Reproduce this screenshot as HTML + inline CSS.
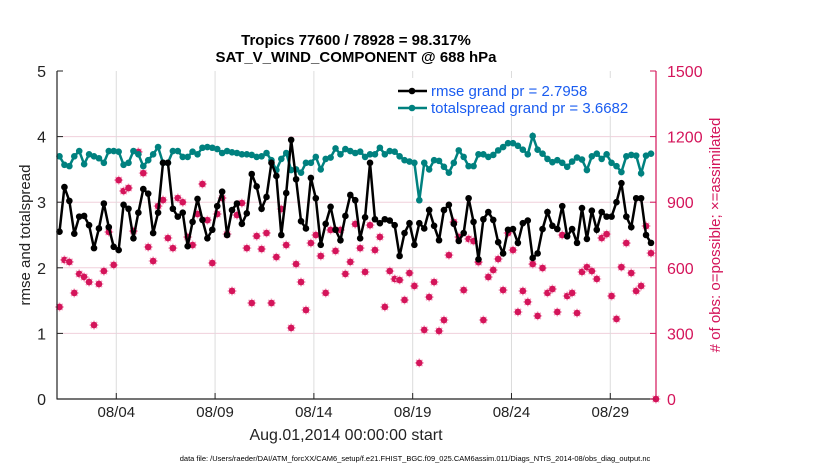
<!DOCTYPE html>
<html><head><meta charset="utf-8"><style>
body{margin:0;background:#fff;}
svg{display:block;font-family:"Liberation Sans",sans-serif;}
</style></head><body>
<svg id="chart" width="830" height="470"></svg>
<script>
const rmse=[2.55,3.23,3.02,2.52,2.78,2.79,2.65,2.3,2.6,2.98,2.62,2.32,2.27,2.96,2.9,2.45,2.84,3.2,3.13,2.53,2.84,3.6,3.6,2.9,2.78,2.84,2.33,2.7,3.05,2.73,2.45,
2.58,2.94,3.16,2.5,2.88,2.98,2.67,2.83,3.43,3.24,2.9,3.08,3.6,3.4,2.5,3.14,3.95,3.35,2.71,2.6,3.37,3.06,2.35,2.67,2.93,2.58,2.42,2.79,3.11,3.03,
2.45,2.77,3.6,2.74,2.68,2.74,2.72,2.65,2.18,2.53,2.68,2.35,2.68,2.6,2.88,2.64,2.42,2.88,2.96,2.67,2.41,2.53,3.06,2.7,2.13,2.74,2.85,2.73,2.39,2.22,2.58,
2.59,2.38,2.68,2.72,2.15,2.22,2.59,2.85,2.64,2.59,2.94,2.48,2.59,2.38,2.91,2.44,2.87,2.58,2.85,2.78,2.78,3.0,3.29,2.78,2.62,3.06,3.06,2.5,2.38];
const spread=[3.7,3.57,3.55,3.7,3.78,3.58,3.73,3.7,3.67,3.6,3.78,3.78,3.77,3.57,3.6,3.78,3.73,3.55,3.64,3.73,3.84,3.6,3.6,3.78,3.78,3.69,3.69,3.77,3.73,3.83,3.84,
3.83,3.81,3.75,3.78,3.76,3.75,3.73,3.73,3.72,3.69,3.7,3.75,3.64,3.49,3.66,3.75,3.49,3.5,3.45,3.6,3.6,3.69,3.5,3.66,3.68,3.82,3.73,3.81,3.78,3.75,
3.77,3.69,3.73,3.73,3.83,3.73,3.78,3.77,3.7,3.64,3.62,3.6,3.03,3.6,3.5,3.64,3.63,3.54,3.45,3.6,3.79,3.69,3.55,3.55,3.73,3.73,3.69,3.72,3.79,3.84,3.9,
3.9,3.86,3.8,3.73,4.01,3.8,3.74,3.66,3.61,3.64,3.6,3.54,3.62,3.68,3.65,3.49,3.7,3.74,3.66,3.73,3.6,3.55,3.46,3.7,3.72,3.71,3.44,3.71,3.74];
const obsAssim=[421,636,627,485,572,558,535,338,526,585,764,613,1001,951,965,768,1130,1033,695,631,882,910,736,690,919,900,741,704,846,983,818,
622,846,919,754,494,841,896,690,439,745,686,759,439,649,869,704,325,617,535,407,713,750,654,485,773,677,773,572,627,800,
690,581,795,681,741,421,585,549,544,453,576,517,165,316,466,535,311,361,658,809,741,498,732,722,626,361,558,590,640,498,759,
681,398,494,444,617,380,599,485,503,398,750,471,485,393,581,603,585,549,736,754,471,366,603,713,576,494,517,791,667,0];
const leftTicks=[0,1,2,3,4,5];
const rightTicks=[0,300,600,900,1200,1500];
const dateTicks=["08/04","08/09","08/14","08/19","08/24","08/29"];
const dateTickDays=[3,8,13,18,23,28];

const NS="http://www.w3.org/2000/svg";
const svg=document.getElementById('chart');
const X0=57,X1=656,Y0=399,Y1=71;
const RED="#d4145a",TEAL="#00817f";
const xDay=d=>X0+d*19.76;
const xIdx=i=>59.5+i*4.929;
const yL=v=>Y0-(v/5)*(Y0-Y1);
const yR=v=>Y0-(v/1500)*(Y0-Y1);
function mk(tag,attrs,parent){const e=document.createElementNS(NS,tag);for(const k in attrs)e.setAttribute(k,attrs[k]);(parent||svg).appendChild(e);return e;}
function txt(s,attrs){const e=mk('text',attrs);e.textContent=s;return e;}

const grid=mk('g',{});


leftTicks.forEach(v=>{if(v>0&&v<5)mk('line',{x1:X0,x2:X1,y1:yL(v),y2:yL(v),stroke:"#f0d0dc","stroke-width":1},grid);});
dateTickDays.forEach(d=>mk('line',{x1:xDay(d),x2:xDay(d),y1:Y1,y2:Y0,stroke:"#dcdcdc","stroke-width":1},grid));

const obsG=mk('g',{});


obsAssim.forEach((v,i)=>{
  const x=xIdx(i),y=yR(v);
  const s=4.5;
  mk('path',{d:`M${x-s},${y}H${x+s}M${x},${y-s}V${y+s}M${x-3.2},${y-3.2}L${x+3.2},${y+3.2}M${x-3.2},${y+3.2}L${x+3.2},${y-3.2}`,stroke:"#f4a8c4","stroke-width":1.5},obsG);
  mk('circle',{cx:x,cy:y,r:3.3,fill:RED},obsG);
});

function series(arr,color,name){
  const g=mk('g',{});
  
  
  mk('polyline',{points:arr.map((v,i)=>xIdx(i)+','+yL(v)).join(' '),fill:"none",stroke:color,"stroke-width":2.5},g);
  arr.forEach((v,i)=>mk('circle',{cx:xIdx(i),cy:yL(v),r:3.3,fill:color},g));
}
series(spread,TEAL,'totalspread-line');
series(rmse,"#000",'rmse-line');

const ax=mk('g',{});


mk('line',{x1:X0,x2:X0,y1:Y1,y2:Y0+0.5,stroke:"#222","stroke-width":1.2},ax);
mk('line',{x1:X0,x2:X1,y1:Y0,y2:Y0,stroke:"#222","stroke-width":1.2},ax);
mk('line',{x1:X1,x2:X1,y1:Y1,y2:Y0,stroke:RED,"stroke-width":1.2},ax);
leftTicks.forEach(v=>{
  mk('line',{x1:X0,x2:X0+6,y1:yL(v),y2:yL(v),stroke:"#222"},ax);
  const t=txt(String(v),{x:X0-11,y:yL(v)+6,"text-anchor":"end","font-size":16,fill:"#222"});
  
  
});
rightTicks.forEach(v=>{
  mk('line',{x1:X1-6,x2:X1,y1:yR(v),y2:yR(v),stroke:RED},ax);
  const t=txt(String(v),{x:X1+11,y:yR(v)+6,"font-size":16,fill:RED});
  
  
});
dateTickDays.forEach((d,k)=>{
  mk('line',{x1:xDay(d),x2:xDay(d),y1:Y0-6,y2:Y0,stroke:"#222"},ax);
  const t=txt(dateTicks[k],{x:xDay(d),y:Y0+18,"text-anchor":"middle","font-size":15,fill:"#222"});
  
  
});

const lg=mk('g',{});


mk('rect',{x:393,y:78,width:254,height:38,fill:"#fff"},lg);
[[91,"#000","rmse grand pr = 2.7958"],[108,TEAL,"totalspread grand pr = 3.6682"]].forEach(([y,c,s])=>{
  mk('line',{x1:398,x2:427,y1:y,y2:y,stroke:c,"stroke-width":2.5},lg);
  mk('circle',{cx:412,cy:y,r:3.3,fill:c},lg);
  const t=txt(s,{x:431,y:y+5,"font-size":15,fill:"#1a5cf0"});
  
  
  lg.appendChild(t);
});

let t;
t=txt("Tropics 77600 / 78928 = 98.317%",{x:356,y:45,"text-anchor":"middle","font-size":15,"font-weight":"bold",fill:"#000"});


t=txt("SAT_V_WIND_COMPONENT @ 688 hPa",{x:356,y:62,"text-anchor":"middle","font-size":15,"font-weight":"bold",fill:"#000"});


t=txt("rmse and totalspread",{x:0,y:0,"text-anchor":"middle","font-size":15,fill:"#222",transform:"translate(30,235) rotate(-90)"});


t=txt("# of obs: o=possible; \u00d7=assimilated",{x:0,y:0,"text-anchor":"middle","font-size":15,fill:RED,transform:"translate(720,235) rotate(-90)"});


t=txt("Aug.01,2014 00:00:00 start",{x:346,y:440,"text-anchor":"middle","font-size":16,fill:"#222"});


t=txt("data file: /Users/raeder/DAI/ATM_forcXX/CAM6_setup/f.e21.FHIST_BGC.f09_025.CAM6assim.011/Diags_NTrS_2014-08/obs_diag_output.nc",{x:415,y:461,"text-anchor":"middle","font-size":7.5,fill:"#000"});


</script>
</body></html>
